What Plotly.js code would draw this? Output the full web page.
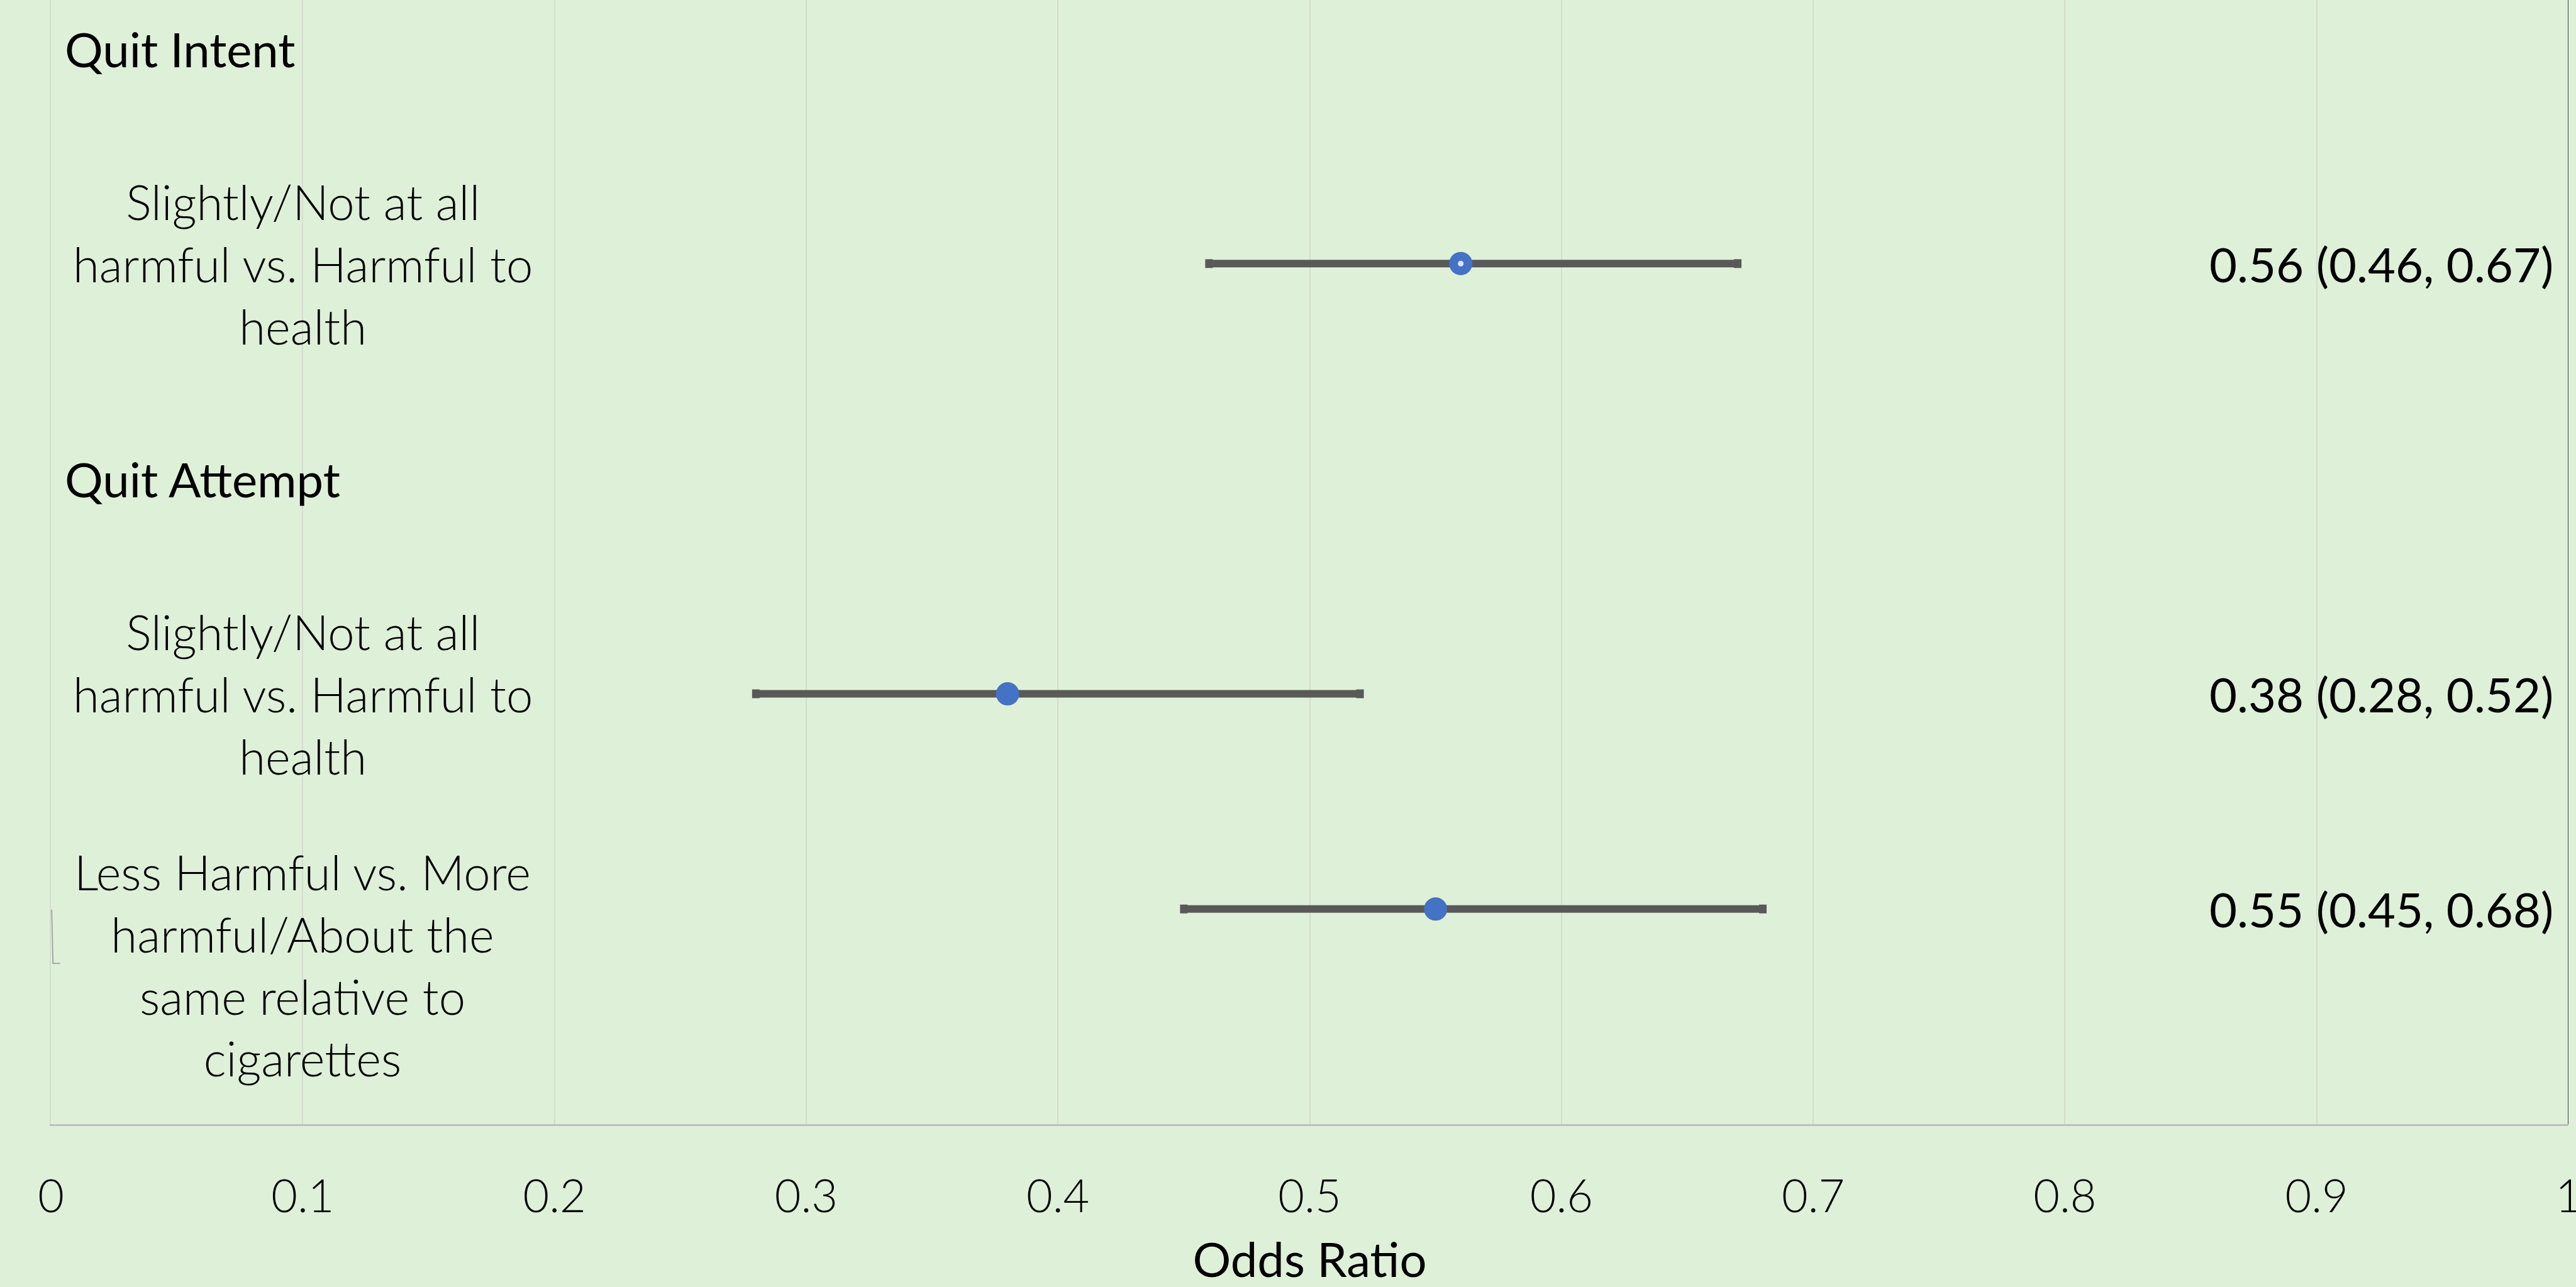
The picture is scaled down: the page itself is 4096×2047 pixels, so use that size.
<!DOCTYPE html>
<html>
<head>
<meta charset="utf-8">
<script src="https://cdn.plot.ly/plotly-3.0.1.min.js"></script>
<style>
  html, body { margin: 0; padding: 0; background: #dff0d8; }
  #chart { width: 4096px; height: 2047px; }
</style>
</head>
<body>
<div id="chart"></div>
<script>
// ---- data ----
const groupNames = ["Quit Intent", "Quit Attempt"];
const groupRows = [5, 3];
const categories = [
  "Slightly/Not at all<br>harmful vs. Harmful to<br>health",
  "Slightly/Not at all<br>harmful vs. Harmful to<br>health",
  "Less Harmful vs. More<br>harmful/About the<br>same relative to<br>cigarettes"
];
const rowPos = [4, 2, 1];
const oddsRatio = [0.56, 0.38, 0.55];
const ciLower = [0.46, 0.28, 0.45];
const ciUpper = [0.67, 0.52, 0.68];
const xTickVals = [0, 0.1, 0.2, 0.3, 0.4, 0.5, 0.6, 0.7, 0.8, 0.9, 1];
const xTickText = ["0", "0.1", "0.2", "0.3", "0.4", "0.5", "0.6", "0.7", "0.8", "0.9", "1"];

// ---- style ----
const FONT = "Lato, 'Open Sans', sans-serif";
const labelShift = [0, 0, -0.26];

const traces = [{
  type: "scatter",
  mode: "markers",
  x: oddsRatio,
  y: rowPos,
  marker: { color: "#4472c4", size: 37, line: { width: 0 } },
  error_x: {
    type: "data",
    symmetric: false,
    array: oddsRatio.map((v, i) => ciUpper[i] - v),
    arrayminus: oddsRatio.map((v, i) => v - ciLower[i]),
    color: "#595959",
    thickness: 12,
    width: 7
  },
  hoverinfo: "skip",
  showlegend: false
}, {
  type: "scatter",
  mode: "markers",
  x: [oddsRatio[0]],
  y: [rowPos[0]],
  marker: { color: "#dbe4f5", size: 9, line: { width: 0 } },
  hoverinfo: "skip",
  showlegend: false
}];

const annotations = [];
groupNames.forEach((g, i) => {
  annotations.push({
    xref: "x", yref: "y", x: 0.005, y: groupRows[i],
    xanchor: "left", yanchor: "middle", showarrow: false,
    text: g, font: { family: FONT, size: 76, color: "#000000", weight: 400 }
  });
});
categories.forEach((c, i) => {
  annotations.push({
    xref: "x", yref: "y", x: 0.1, y: rowPos[i] + labelShift[i],
    xanchor: "center", yanchor: "middle", align: "center", showarrow: false,
    text: c, font: { family: FONT, size: 76, color: "#000000", weight: 300 }
  });
  annotations.push({
    xref: "x", yref: "y", x: 0.9946, y: rowPos[i],
    xanchor: "right", yanchor: "middle", showarrow: false,
    text: oddsRatio[i].toFixed(2) + " (" + ciLower[i].toFixed(2) + ", " + ciUpper[i].toFixed(2) + ")",
    font: { family: FONT, size: 76, color: "#000000", weight: 400 }
  });
});

const layout = {
  width: 4096,
  height: 2047,
  paper_bgcolor: "#dff0d8",
  plot_bgcolor: "#dff0d8",
  margin: { l: 81, r: 12, t: 0, b: 259, pad: 0 },
  showlegend: false,
  xaxis: {
    range: [0, 1],
    tickvals: xTickVals,
    ticktext: xTickText,
    tickfont: { family: FONT, size: 72, color: "#000000", weight: 300 },
    ticklabeloverflow: "allow",
    showgrid: true,
    gridcolor: "#d3dccf",
    gridwidth: 2,
    zeroline: false,
    showline: true,
    linecolor: "#bfbfbf",
    linewidth: 3,
    ticks: "",
    ticklabelstandoff: 51,
    title: {
      text: "Odds Ratio",
      font: { family: FONT, size: 76, color: "#000000", weight: 400 },
      standoff: 42
    },
    automargin: false,
    fixedrange: true
  },
  yaxis: {
    range: [0, 5.225],
    showgrid: false,
    zeroline: false,
    showline: true,
    linecolor: "#d3dccf",
    linewidth: 2,
    showticklabels: false,
    ticks: "",
    automargin: false,
    fixedrange: true
  },
  shapes: [
    { type: "line", xref: "x", yref: "paper", x0: 1, x1: 1, y0: 0, y1: 1,
      line: { color: "#404040", width: 2 } },
    { type: "path", xref: "paper", yref: "paper",
      path: "M 0.0003 0.1907 L 0.0008 0.143 L 0.0037 0.143",
      line: { color: "#a6a6a6", width: 2 } }
  ],
  annotations: annotations
};

Plotly.newPlot("chart", traces, layout, { displayModeBar: false, staticPlot: true });
</script>
</body>
</html>
